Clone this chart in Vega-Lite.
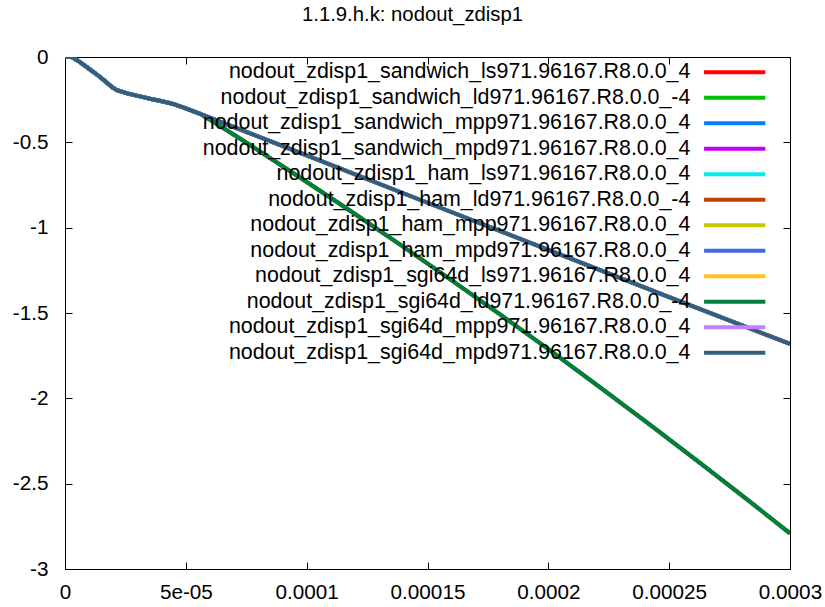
{
  "$schema": "https://vega.github.io/schema/vega-lite/v6.json",
  "width": 725,
  "height": 512,
  "autosize": {"type": "none"},
  "padding": {"left": 65, "top": 57, "right": 35, "bottom": 38},
  "background": "white",
  "title": {"text": "1.1.9.h.k: nodout_zdisp1", "font": "Liberation Sans", "fontSize": 20.3, "fontWeight": "normal", "color": "black", "anchor": "middle", "dx": -15, "offset": 21},
  "config": {"view": {"stroke": "black", "strokeWidth": 1}, "font": "Liberation Sans"},
  "data": {"values": [
    {"s":"sandwich_ls","t":0,"z":0},{"s":"sandwich_ls","t":0.0000028,"z":0},{"s":"sandwich_ls","t":0.0000062,"z":-0.03},{"s":"sandwich_ls","t":0.0000103,"z":-0.073},{"s":"sandwich_ls","t":0.0000145,"z":-0.117},{"s":"sandwich_ls","t":0.0000173,"z":-0.15},{"s":"sandwich_ls","t":0.0000195,"z":-0.177},{"s":"sandwich_ls","t":0.0000215,"z":-0.194},{"s":"sandwich_ls","t":0.0000257,"z":-0.213},{"s":"sandwich_ls","t":0.000031,"z":-0.231},{"s":"sandwich_ls","t":0.0000352,"z":-0.245},{"s":"sandwich_ls","t":0.0000406,"z":-0.261},{"s":"sandwich_ls","t":0.0000447,"z":-0.275},{"s":"sandwich_ls","t":0.0000497,"z":-0.299},{"s":"sandwich_ls","t":0.0000559,"z":-0.333},{"s":"sandwich_ls","t":0.0000766,"z":-0.447},{"s":"sandwich_ls","t":0.0001,"z":-0.577},{"s":"sandwich_ls","t":0.00015,"z":-0.854},{"s":"sandwich_ls","t":0.0002,"z":-1.13},{"s":"sandwich_ls","t":0.00025,"z":-1.407},{"s":"sandwich_ls","t":0.0003,"z":-1.681},
    {"s":"sandwich_ld","t":0,"z":0},{"s":"sandwich_ld","t":0.0000028,"z":0},{"s":"sandwich_ld","t":0.0000062,"z":-0.03},{"s":"sandwich_ld","t":0.0000103,"z":-0.073},{"s":"sandwich_ld","t":0.0000145,"z":-0.117},{"s":"sandwich_ld","t":0.0000173,"z":-0.15},{"s":"sandwich_ld","t":0.0000195,"z":-0.177},{"s":"sandwich_ld","t":0.0000215,"z":-0.194},{"s":"sandwich_ld","t":0.0000257,"z":-0.213},{"s":"sandwich_ld","t":0.000031,"z":-0.231},{"s":"sandwich_ld","t":0.0000352,"z":-0.245},{"s":"sandwich_ld","t":0.0000406,"z":-0.261},{"s":"sandwich_ld","t":0.0000447,"z":-0.275},{"s":"sandwich_ld","t":0.0000497,"z":-0.299},{"s":"sandwich_ld","t":0.0000559,"z":-0.333},{"s":"sandwich_ld","t":0.0000612,"z":-0.378},{"s":"sandwich_ld","t":0.0000766,"z":-0.516},{"s":"sandwich_ld","t":0.0000972,"z":-0.706},{"s":"sandwich_ld","t":0.000118,"z":-0.901},{"s":"sandwich_ld","t":0.000139,"z":-1.102},{"s":"sandwich_ld","t":0.000159,"z":-1.299},{"s":"sandwich_ld","t":0.00018,"z":-1.508},{"s":"sandwich_ld","t":0.0002,"z":-1.712},{"s":"sandwich_ld","t":0.000221,"z":-1.931},{"s":"sandwich_ld","t":0.000242,"z":-2.154},{"s":"sandwich_ld","t":0.000263,"z":-2.381},{"s":"sandwich_ld","t":0.000283,"z":-2.601},{"s":"sandwich_ld","t":0.0003,"z":-2.791},
    {"s":"sandwich_mpp","t":0,"z":0},{"s":"sandwich_mpp","t":0.0000028,"z":0},{"s":"sandwich_mpp","t":0.0000062,"z":-0.03},{"s":"sandwich_mpp","t":0.0000103,"z":-0.073},{"s":"sandwich_mpp","t":0.0000145,"z":-0.117},{"s":"sandwich_mpp","t":0.0000173,"z":-0.15},{"s":"sandwich_mpp","t":0.0000195,"z":-0.177},{"s":"sandwich_mpp","t":0.0000215,"z":-0.194},{"s":"sandwich_mpp","t":0.0000257,"z":-0.213},{"s":"sandwich_mpp","t":0.000031,"z":-0.231},{"s":"sandwich_mpp","t":0.0000352,"z":-0.245},{"s":"sandwich_mpp","t":0.0000406,"z":-0.261},{"s":"sandwich_mpp","t":0.0000447,"z":-0.275},{"s":"sandwich_mpp","t":0.0000497,"z":-0.299},{"s":"sandwich_mpp","t":0.0000559,"z":-0.333},{"s":"sandwich_mpp","t":0.0000766,"z":-0.447},{"s":"sandwich_mpp","t":0.0001,"z":-0.577},{"s":"sandwich_mpp","t":0.00015,"z":-0.854},{"s":"sandwich_mpp","t":0.0002,"z":-1.13},{"s":"sandwich_mpp","t":0.00025,"z":-1.407},{"s":"sandwich_mpp","t":0.0003,"z":-1.681},
    {"s":"sandwich_mpd","t":0,"z":0},{"s":"sandwich_mpd","t":0.0000028,"z":0},{"s":"sandwich_mpd","t":0.0000062,"z":-0.03},{"s":"sandwich_mpd","t":0.0000103,"z":-0.073},{"s":"sandwich_mpd","t":0.0000145,"z":-0.117},{"s":"sandwich_mpd","t":0.0000173,"z":-0.15},{"s":"sandwich_mpd","t":0.0000195,"z":-0.177},{"s":"sandwich_mpd","t":0.0000215,"z":-0.194},{"s":"sandwich_mpd","t":0.0000257,"z":-0.213},{"s":"sandwich_mpd","t":0.000031,"z":-0.231},{"s":"sandwich_mpd","t":0.0000352,"z":-0.245},{"s":"sandwich_mpd","t":0.0000406,"z":-0.261},{"s":"sandwich_mpd","t":0.0000447,"z":-0.275},{"s":"sandwich_mpd","t":0.0000497,"z":-0.299},{"s":"sandwich_mpd","t":0.0000559,"z":-0.333},{"s":"sandwich_mpd","t":0.0000766,"z":-0.447},{"s":"sandwich_mpd","t":0.0001,"z":-0.577},{"s":"sandwich_mpd","t":0.00015,"z":-0.854},{"s":"sandwich_mpd","t":0.0002,"z":-1.13},{"s":"sandwich_mpd","t":0.00025,"z":-1.407},{"s":"sandwich_mpd","t":0.0003,"z":-1.681},
    {"s":"ham_ls","t":0,"z":0},{"s":"ham_ls","t":0.0000028,"z":0},{"s":"ham_ls","t":0.0000062,"z":-0.03},{"s":"ham_ls","t":0.0000103,"z":-0.073},{"s":"ham_ls","t":0.0000145,"z":-0.117},{"s":"ham_ls","t":0.0000173,"z":-0.15},{"s":"ham_ls","t":0.0000195,"z":-0.177},{"s":"ham_ls","t":0.0000215,"z":-0.194},{"s":"ham_ls","t":0.0000257,"z":-0.213},{"s":"ham_ls","t":0.000031,"z":-0.231},{"s":"ham_ls","t":0.0000352,"z":-0.245},{"s":"ham_ls","t":0.0000406,"z":-0.261},{"s":"ham_ls","t":0.0000447,"z":-0.275},{"s":"ham_ls","t":0.0000497,"z":-0.299},{"s":"ham_ls","t":0.0000559,"z":-0.333},{"s":"ham_ls","t":0.0000766,"z":-0.447},{"s":"ham_ls","t":0.0001,"z":-0.577},{"s":"ham_ls","t":0.00015,"z":-0.854},{"s":"ham_ls","t":0.0002,"z":-1.13},{"s":"ham_ls","t":0.00025,"z":-1.407},{"s":"ham_ls","t":0.0003,"z":-1.681},
    {"s":"ham_ld","t":0,"z":0},{"s":"ham_ld","t":0.0000028,"z":0},{"s":"ham_ld","t":0.0000062,"z":-0.03},{"s":"ham_ld","t":0.0000103,"z":-0.073},{"s":"ham_ld","t":0.0000145,"z":-0.117},{"s":"ham_ld","t":0.0000173,"z":-0.15},{"s":"ham_ld","t":0.0000195,"z":-0.177},{"s":"ham_ld","t":0.0000215,"z":-0.194},{"s":"ham_ld","t":0.0000257,"z":-0.213},{"s":"ham_ld","t":0.000031,"z":-0.231},{"s":"ham_ld","t":0.0000352,"z":-0.245},{"s":"ham_ld","t":0.0000406,"z":-0.261},{"s":"ham_ld","t":0.0000447,"z":-0.275},{"s":"ham_ld","t":0.0000497,"z":-0.299},{"s":"ham_ld","t":0.0000559,"z":-0.333},{"s":"ham_ld","t":0.0000612,"z":-0.378},{"s":"ham_ld","t":0.0000766,"z":-0.516},{"s":"ham_ld","t":0.0000972,"z":-0.706},{"s":"ham_ld","t":0.000118,"z":-0.901},{"s":"ham_ld","t":0.000139,"z":-1.102},{"s":"ham_ld","t":0.000159,"z":-1.299},{"s":"ham_ld","t":0.00018,"z":-1.508},{"s":"ham_ld","t":0.0002,"z":-1.712},{"s":"ham_ld","t":0.000221,"z":-1.931},{"s":"ham_ld","t":0.000242,"z":-2.154},{"s":"ham_ld","t":0.000263,"z":-2.381},{"s":"ham_ld","t":0.000283,"z":-2.601},{"s":"ham_ld","t":0.0003,"z":-2.791},
    {"s":"ham_mpp","t":0,"z":0},{"s":"ham_mpp","t":0.0000028,"z":0},{"s":"ham_mpp","t":0.0000062,"z":-0.03},{"s":"ham_mpp","t":0.0000103,"z":-0.073},{"s":"ham_mpp","t":0.0000145,"z":-0.117},{"s":"ham_mpp","t":0.0000173,"z":-0.15},{"s":"ham_mpp","t":0.0000195,"z":-0.177},{"s":"ham_mpp","t":0.0000215,"z":-0.194},{"s":"ham_mpp","t":0.0000257,"z":-0.213},{"s":"ham_mpp","t":0.000031,"z":-0.231},{"s":"ham_mpp","t":0.0000352,"z":-0.245},{"s":"ham_mpp","t":0.0000406,"z":-0.261},{"s":"ham_mpp","t":0.0000447,"z":-0.275},{"s":"ham_mpp","t":0.0000497,"z":-0.299},{"s":"ham_mpp","t":0.0000559,"z":-0.333},{"s":"ham_mpp","t":0.0000766,"z":-0.447},{"s":"ham_mpp","t":0.0001,"z":-0.577},{"s":"ham_mpp","t":0.00015,"z":-0.854},{"s":"ham_mpp","t":0.0002,"z":-1.13},{"s":"ham_mpp","t":0.00025,"z":-1.407},{"s":"ham_mpp","t":0.0003,"z":-1.681},
    {"s":"ham_mpd","t":0,"z":0},{"s":"ham_mpd","t":0.0000028,"z":0},{"s":"ham_mpd","t":0.0000062,"z":-0.03},{"s":"ham_mpd","t":0.0000103,"z":-0.073},{"s":"ham_mpd","t":0.0000145,"z":-0.117},{"s":"ham_mpd","t":0.0000173,"z":-0.15},{"s":"ham_mpd","t":0.0000195,"z":-0.177},{"s":"ham_mpd","t":0.0000215,"z":-0.194},{"s":"ham_mpd","t":0.0000257,"z":-0.213},{"s":"ham_mpd","t":0.000031,"z":-0.231},{"s":"ham_mpd","t":0.0000352,"z":-0.245},{"s":"ham_mpd","t":0.0000406,"z":-0.261},{"s":"ham_mpd","t":0.0000447,"z":-0.275},{"s":"ham_mpd","t":0.0000497,"z":-0.299},{"s":"ham_mpd","t":0.0000559,"z":-0.333},{"s":"ham_mpd","t":0.0000766,"z":-0.447},{"s":"ham_mpd","t":0.0001,"z":-0.577},{"s":"ham_mpd","t":0.00015,"z":-0.854},{"s":"ham_mpd","t":0.0002,"z":-1.13},{"s":"ham_mpd","t":0.00025,"z":-1.407},{"s":"ham_mpd","t":0.0003,"z":-1.681},
    {"s":"sgi64d_ls","t":0,"z":0},{"s":"sgi64d_ls","t":0.0000028,"z":0},{"s":"sgi64d_ls","t":0.0000062,"z":-0.03},{"s":"sgi64d_ls","t":0.0000103,"z":-0.073},{"s":"sgi64d_ls","t":0.0000145,"z":-0.117},{"s":"sgi64d_ls","t":0.0000173,"z":-0.15},{"s":"sgi64d_ls","t":0.0000195,"z":-0.177},{"s":"sgi64d_ls","t":0.0000215,"z":-0.194},{"s":"sgi64d_ls","t":0.0000257,"z":-0.213},{"s":"sgi64d_ls","t":0.000031,"z":-0.231},{"s":"sgi64d_ls","t":0.0000352,"z":-0.245},{"s":"sgi64d_ls","t":0.0000406,"z":-0.261},{"s":"sgi64d_ls","t":0.0000447,"z":-0.275},{"s":"sgi64d_ls","t":0.0000497,"z":-0.299},{"s":"sgi64d_ls","t":0.0000559,"z":-0.333},{"s":"sgi64d_ls","t":0.0000766,"z":-0.447},{"s":"sgi64d_ls","t":0.0001,"z":-0.577},{"s":"sgi64d_ls","t":0.00015,"z":-0.854},{"s":"sgi64d_ls","t":0.0002,"z":-1.13},{"s":"sgi64d_ls","t":0.00025,"z":-1.407},{"s":"sgi64d_ls","t":0.0003,"z":-1.681},
    {"s":"sgi64d_ld","t":0,"z":0},{"s":"sgi64d_ld","t":0.0000028,"z":0},{"s":"sgi64d_ld","t":0.0000062,"z":-0.03},{"s":"sgi64d_ld","t":0.0000103,"z":-0.073},{"s":"sgi64d_ld","t":0.0000145,"z":-0.117},{"s":"sgi64d_ld","t":0.0000173,"z":-0.15},{"s":"sgi64d_ld","t":0.0000195,"z":-0.177},{"s":"sgi64d_ld","t":0.0000215,"z":-0.194},{"s":"sgi64d_ld","t":0.0000257,"z":-0.213},{"s":"sgi64d_ld","t":0.000031,"z":-0.231},{"s":"sgi64d_ld","t":0.0000352,"z":-0.245},{"s":"sgi64d_ld","t":0.0000406,"z":-0.261},{"s":"sgi64d_ld","t":0.0000447,"z":-0.275},{"s":"sgi64d_ld","t":0.0000497,"z":-0.299},{"s":"sgi64d_ld","t":0.0000559,"z":-0.333},{"s":"sgi64d_ld","t":0.0000612,"z":-0.378},{"s":"sgi64d_ld","t":0.0000766,"z":-0.516},{"s":"sgi64d_ld","t":0.0000972,"z":-0.706},{"s":"sgi64d_ld","t":0.000118,"z":-0.901},{"s":"sgi64d_ld","t":0.000139,"z":-1.102},{"s":"sgi64d_ld","t":0.000159,"z":-1.299},{"s":"sgi64d_ld","t":0.00018,"z":-1.508},{"s":"sgi64d_ld","t":0.0002,"z":-1.712},{"s":"sgi64d_ld","t":0.000221,"z":-1.931},{"s":"sgi64d_ld","t":0.000242,"z":-2.154},{"s":"sgi64d_ld","t":0.000263,"z":-2.381},{"s":"sgi64d_ld","t":0.000283,"z":-2.601},{"s":"sgi64d_ld","t":0.0003,"z":-2.791},
    {"s":"sgi64d_mpp","t":0,"z":0},{"s":"sgi64d_mpp","t":0.0000028,"z":0},{"s":"sgi64d_mpp","t":0.0000062,"z":-0.03},{"s":"sgi64d_mpp","t":0.0000103,"z":-0.073},{"s":"sgi64d_mpp","t":0.0000145,"z":-0.117},{"s":"sgi64d_mpp","t":0.0000173,"z":-0.15},{"s":"sgi64d_mpp","t":0.0000195,"z":-0.177},{"s":"sgi64d_mpp","t":0.0000215,"z":-0.194},{"s":"sgi64d_mpp","t":0.0000257,"z":-0.213},{"s":"sgi64d_mpp","t":0.000031,"z":-0.231},{"s":"sgi64d_mpp","t":0.0000352,"z":-0.245},{"s":"sgi64d_mpp","t":0.0000406,"z":-0.261},{"s":"sgi64d_mpp","t":0.0000447,"z":-0.275},{"s":"sgi64d_mpp","t":0.0000497,"z":-0.299},{"s":"sgi64d_mpp","t":0.0000559,"z":-0.333},{"s":"sgi64d_mpp","t":0.0000766,"z":-0.447},{"s":"sgi64d_mpp","t":0.0001,"z":-0.577},{"s":"sgi64d_mpp","t":0.00015,"z":-0.854},{"s":"sgi64d_mpp","t":0.0002,"z":-1.13},{"s":"sgi64d_mpp","t":0.00025,"z":-1.407},{"s":"sgi64d_mpp","t":0.0003,"z":-1.681},
    {"s":"sgi64d_mpd","t":0,"z":0},{"s":"sgi64d_mpd","t":0.0000028,"z":0},{"s":"sgi64d_mpd","t":0.0000062,"z":-0.03},{"s":"sgi64d_mpd","t":0.0000103,"z":-0.073},{"s":"sgi64d_mpd","t":0.0000145,"z":-0.117},{"s":"sgi64d_mpd","t":0.0000173,"z":-0.15},{"s":"sgi64d_mpd","t":0.0000195,"z":-0.177},{"s":"sgi64d_mpd","t":0.0000215,"z":-0.194},{"s":"sgi64d_mpd","t":0.0000257,"z":-0.213},{"s":"sgi64d_mpd","t":0.000031,"z":-0.231},{"s":"sgi64d_mpd","t":0.0000352,"z":-0.245},{"s":"sgi64d_mpd","t":0.0000406,"z":-0.261},{"s":"sgi64d_mpd","t":0.0000447,"z":-0.275},{"s":"sgi64d_mpd","t":0.0000497,"z":-0.299},{"s":"sgi64d_mpd","t":0.0000559,"z":-0.333},{"s":"sgi64d_mpd","t":0.0000766,"z":-0.447},{"s":"sgi64d_mpd","t":0.0001,"z":-0.577},{"s":"sgi64d_mpd","t":0.00015,"z":-0.854},{"s":"sgi64d_mpd","t":0.0002,"z":-1.13},{"s":"sgi64d_mpd","t":0.00025,"z":-1.407},{"s":"sgi64d_mpd","t":0.0003,"z":-1.681}
  ]},
  "layer": [
    {
      "mark": {"type": "line", "strokeWidth": 4, "clip": true},
      "encoding": {
        "x": {"field": "t", "type": "quantitative", "scale": {"domain": [0, 0.0003], "nice": false, "zero": false},
          "axis": {"orient": "bottom", "title": null, "values": [0, 0.00005, 0.0001, 0.00015, 0.0002, 0.00025, 0.0003], "labelExpr": "datum.value == 0 ? '0' : (abs(datum.value - 0.00005) < 1e-9 ? '5e-05' : format(datum.value, '.5~f'))", "grid": false, "domain": false, "tickSize": -7, "tickColor": "black", "labelFont": "Liberation Sans", "labelFontSize": 20.7, "labelColor": "black", "labelPadding": 20, "labelFlush": false, "labelOverlap": false}},
        "y": {"field": "z", "type": "quantitative", "scale": {"domain": [-3, 0], "nice": false, "zero": false},
          "axis": {"orient": "left", "title": null, "values": [0, -0.5, -1, -1.5, -2, -2.5, -3], "labelExpr": "toString(datum.value)", "grid": false, "domain": false, "tickSize": -7, "tickColor": "black", "labelFont": "Liberation Sans", "labelFontSize": 20.7, "labelColor": "black", "labelPadding": 24, "labelOverlap": false}},
        "color": {"field": "s", "type": "nominal",
          "scale": {"domain": ["sandwich_ls", "sandwich_ld", "sandwich_mpp", "sandwich_mpd", "ham_ls", "ham_ld", "ham_mpp", "ham_mpd", "sgi64d_ls", "sgi64d_ld", "sgi64d_mpp", "sgi64d_mpd"],
                    "range": ["#ff0000", "#00c000", "#0080ff", "#c000ff", "#00eeee", "#c04000", "#c8c800", "#4169e1", "#ffc020", "#008040", "#c080ff", "#306080"]},
          "legend": {"title": null, "orient": "none", "legendX": 659, "legendY": 4.5, "padding": 0, "symbolType": "M-5,0L5,0", "symbolSize": 150, "symbolStrokeWidth": 4, "symbolOffset": 0, "labelAlign": "right", "labelOffset": -55, "labelFont": "Liberation Sans", "labelFontSize": 21.4, "labelColor": "black", "labelLimit": 0, "rowPadding": 2.5,
            "labelExpr": "'nodout_zdisp1_' + datum.label + '971.96167.R8.0.0_' + (indexof(datum.label, '_ld') >= 0 ? '-4' : '4')"}}
      }
    },
    {
      "mark": {"type": "point", "opacity": 0},
      "encoding": {
        "x": {"field": "t", "type": "quantitative", "axis": {"orient": "top", "title": null, "values": [0, 0.00005, 0.0001, 0.00015, 0.0002, 0.00025, 0.0003], "labels": false, "grid": false, "domain": false, "tickSize": -7, "tickColor": "black"}},
        "y": {"field": "z", "type": "quantitative", "axis": {"orient": "right", "title": null, "values": [0, -0.5, -1, -1.5, -2, -2.5, -3], "labels": false, "grid": false, "domain": false, "tickSize": -7, "tickColor": "black"}}
      }
    }
  ],
  "resolve": {"axis": {"x": "independent", "y": "independent"}}
}
